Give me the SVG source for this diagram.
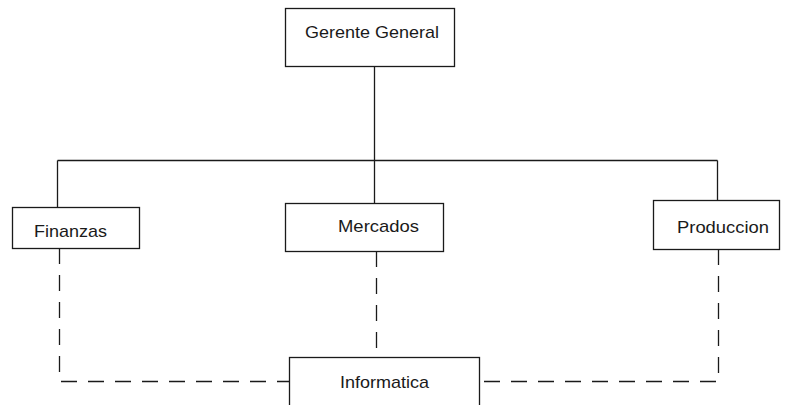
<svg xmlns="http://www.w3.org/2000/svg" width="789" height="405" viewBox="0 0 789 405">
  <style>
    .box { fill: #ffffff; stroke: #1a1a1a; stroke-width: 1.3; }
    .label { font-family: "Liberation Sans", Arial, sans-serif; font-size: 17px; fill: #1a1a1a; text-anchor: start; }
    .solid { fill: none; stroke: #1a1a1a; stroke-width: 1.3; }
    .dashed { fill: none; stroke: #1a1a1a; stroke-width: 1.3; stroke-dasharray: 16 11; }
  </style>
  <rect width="789" height="405" fill="#ffffff"/>

  <!-- connectors -->
  <g id="connectors">
    <!-- reporting lines from the general manager -->
    <path class="solid" d="M374.5 66 V160.5 M57.5 160.5 H717.5 M57.5 160.5 V207 M374.5 160.5 V203 M717.5 160.5 V200"/>
    <!-- dashed support links to Informatica -->
    <path class="dashed" d="M59.5 248 V381.5 H289"/>
    <path class="dashed" d="M376.5 251 V357"/>
    <path class="dashed" d="M718.5 249 V381.5 H479"/>
  </g>

  <g id="gerente-general">
    <rect class="box" x="285.5" y="8.5" width="169" height="58"/>
    <text class="label" x="305" y="38" textLength="134" lengthAdjust="spacingAndGlyphs">Gerente General</text>
  </g>

  <g id="finanzas">
    <rect class="box" x="12.5" y="207.5" width="127" height="41"/>
    <text class="label" x="34" y="237" textLength="73" lengthAdjust="spacingAndGlyphs">Finanzas</text>
  </g>

  <g id="mercados">
    <rect class="box" x="285.5" y="203.5" width="158" height="48"/>
    <text class="label" x="338" y="232" textLength="81" lengthAdjust="spacingAndGlyphs">Mercados</text>
  </g>

  <g id="produccion">
    <rect class="box" x="653.5" y="200.5" width="126" height="49"/>
    <text class="label" x="677" y="233" textLength="92" lengthAdjust="spacingAndGlyphs">Produccion</text>
  </g>

  <g id="informatica">
    <rect class="box" x="289.5" y="357.5" width="190" height="50"/>
    <text class="label" x="340" y="388" textLength="89" lengthAdjust="spacingAndGlyphs">Informatica</text>
  </g>
</svg>
